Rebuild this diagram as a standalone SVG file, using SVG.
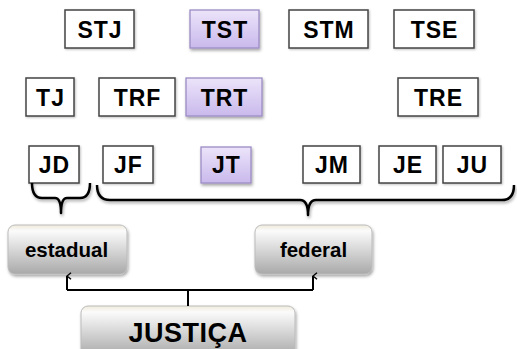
<svg xmlns="http://www.w3.org/2000/svg" width="517" height="349" viewBox="0 0 517 349">
<defs>
<linearGradient id="gPurple" x1="0" y1="0" x2="0" y2="1">
<stop offset="0" stop-color="#ece4fa"/>
<stop offset="1" stop-color="#c9b9ec"/>
</linearGradient>
<linearGradient id="gGrey" x1="0" y1="0" x2="0" y2="1">
<stop offset="0" stop-color="#efeadb"/>
<stop offset="0.12" stop-color="#fbfbfb"/>
<stop offset="1" stop-color="#a9a9a9"/>
</linearGradient>
<filter id="sh" x="-20%" y="-20%" width="140%" height="150%">
<feDropShadow dx="1" dy="2" stdDeviation="1.5" flood-color="#000" flood-opacity="0.35"/>
</filter>
<filter id="sh2" x="-20%" y="-20%" width="140%" height="150%">
<feDropShadow dx="1" dy="1" stdDeviation="0.8" flood-color="#000" flood-opacity="0.25"/>
</filter>
<marker id="arr" viewBox="0 0 10 10" refX="5" refY="1" markerWidth="8" markerHeight="8" orient="auto-start-reverse" markerUnits="userSpaceOnUse">
<path d="M1,6 L5,1 L9,6" fill="none" stroke="#000" stroke-width="1.8"/>
</marker>
</defs>
<style>
.w{fill:#fff;stroke:#444;stroke-width:1.5;filter:url(#sh2)}
.p{fill:url(#gPurple);stroke:#9c8cc4;stroke-width:1.3;filter:url(#sh)}
.g{fill:url(#gGrey);stroke:#bbb;stroke-width:1;filter:url(#sh)}
.t{font-family:"Liberation Sans",Arial,sans-serif;font-weight:bold;font-size:23px;letter-spacing:1px;fill:#000;text-anchor:middle}
.t2{font-family:"Liberation Sans",Arial,sans-serif;font-weight:bold;font-size:20.5px;fill:#000;text-anchor:middle}
.t3{font-family:"Liberation Sans",Arial,sans-serif;font-weight:bold;font-size:27px;letter-spacing:0.5px;fill:#000;text-anchor:middle}
.br{fill:none;stroke:#000;stroke-width:2.5;stroke-linejoin:round;filter:url(#sh)}
.ln{fill:none;stroke:#000;stroke-width:2}
</style>
<rect width="517" height="349" fill="#fff"/>
<g id="STJ"><rect class="w" x="65" y="10" width="69" height="38"/><text class="t" x="100" y="37.5">STJ</text></g>
<g id="TST"><rect class="p" x="190" y="10" width="69" height="38"/><text class="t" x="225" y="37.5">TST</text></g>
<g id="STM"><rect class="w" x="289" y="10" width="79" height="38"/><text class="t" x="329" y="37.5">STM</text></g>
<g id="TSE"><rect class="w" x="394" y="10" width="80" height="38"/><text class="t" x="434.5" y="37.5">TSE</text></g>
<g id="TJ"><rect class="w" x="26" y="78" width="48" height="38"/><text class="t" x="50.5" y="105.5">TJ</text></g>
<g id="TRF"><rect class="w" x="99" y="78" width="76" height="38"/><text class="t" x="137.5" y="105.5">TRF</text></g>
<g id="TRT"><rect class="p" x="186" y="78" width="76" height="38"/><text class="t" x="224.5" y="105.5">TRT</text></g>
<g id="TRE"><rect class="w" x="398" y="78" width="80" height="38"/><text class="t" x="438.5" y="105.5">TRE</text></g>
<g id="JD"><rect class="w" x="29" y="146" width="50" height="37"/><text class="t" x="54.5" y="172.5">JD</text></g>
<g id="JF"><rect class="w" x="103" y="146" width="50" height="37"/><text class="t" x="128.5" y="172.5">JF</text></g>
<g id="JT"><rect class="p" x="201" y="147" width="50" height="36"/><text class="t" x="226.5" y="172.5">JT</text></g>
<g id="JM"><rect class="w" x="303" y="146" width="57" height="37"/><text class="t" x="332" y="172.5">JM</text></g>
<g id="JE"><rect class="w" x="379" y="146" width="57" height="37"/><text class="t" x="408" y="172.5">JE</text></g>
<g id="JU"><rect class="w" x="443" y="146" width="58" height="37"/><text class="t" x="472.5" y="172.5">JU</text></g>
<g id="estadual"><rect class="g" x="8" y="225" width="119" height="49" rx="7"/><text class="t2" x="66.5" y="257">estadual</text></g>
<g id="federal"><rect class="g" x="255" y="225" width="117" height="49" rx="7"/><text class="t2" x="313.5" y="257">federal</text></g>
<g id="JUSTICA"><rect class="g" x="81" y="306" width="214" height="50" rx="7"/><text class="t3" x="188" y="342">JUSTIÇA</text></g>
<g id="connectors">
<path class="br" d="M32,183 Q32,198 42,198 L55,198 Q61,198 61,213 Q61,198 67,198 L80,198 Q90,198 90,183"/>
<path class="br" d="M97,185 Q97,200 110,200 L300,200 Q308,200 308,215 Q308,200 316,200 L502,200 Q514,200 514,185"/>
<path class="ln" d="M188,306 L188,290"/>
<path class="ln" d="M67,290 L313,290"/>
<path class="ln" d="M67,290 L67,276" marker-end="url(#arr)"/>
<path class="ln" d="M313,290 L313,276" marker-end="url(#arr)"/>
</g>
</svg>
